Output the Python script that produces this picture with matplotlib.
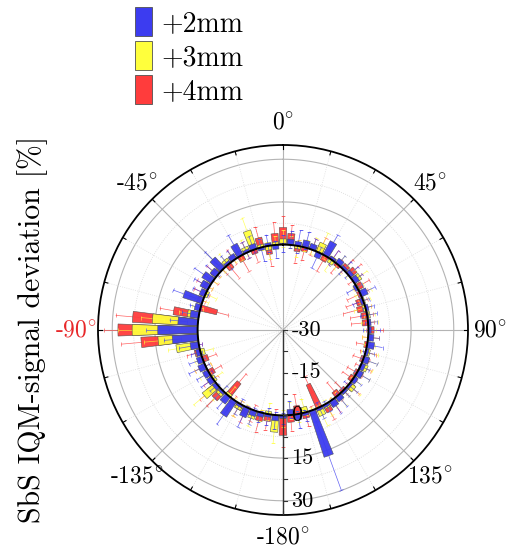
import numpy as np
import matplotlib
matplotlib.use("Agg")
import matplotlib.pyplot as plt
from matplotlib.patches import Patch
from matplotlib.lines import Line2D

plt.rcParams['font.family'] = ['cmr10', 'DejaVu Serif']
plt.rcParams['mathtext.fontset'] = 'cm'
plt.rcParams['axes.unicode_minus'] = False

# angles in degrees, 0 at top, clockwise (0..355 step 5; 180..355 == -180..-5)
angles = np.arange(0, 360, 5)

labels = ["+2mm", "+3mm", "+4mm"]
colors = ["#3c3cf0", "#ffff3c", "#ff3c3c"]

dev_2mm = [0.5, 2, 1.5, 2.5, 2, -2, 5.5, 1, 2, 1,
           1.5, 2, -1, 2.5, -1, 1, 0.5, 1, 1, 2,
           2.5, 1, 2, 1.5, 2, 1.5, 1, 1, 2, 2.5,
           1, 1, 17, 1, 2, -2, 1, 2, 1, 1.5,
           2, 3.5, 1, 6.5, 3, 1, 1.5, 2, 2, 2.5,
           2, 1.5, 3, 9, 14, 7, 3, 2, 7, 2,
           3, 4, 2.5, 5, 1, 2, 4.5, 1, 2, -1,
           1, -1.5]
dev_3mm = [2, 1, -1, 0.8, 1.5, 3.5, 1, -1.5, 1, 0.5,
           1, 3, 0.5, 1, 0.5, -1, 1, 0.5, 0.5, 1,
           1, 1.5, 2, 2.5, 2, 1, 2.5, 1, 1.5, 1,
           1.5, 3, 1, -2, 1, -1.5, 1, 6, -1, 1,
           3, 1, 2, 1, -1, 2, 6, -1, 1.5, 1,
           1, -1.5, 8, 14, 23, 16, 4, 1, 1, -1,
           1, 1.5, 1, 2, 2, 1, 1.5, 2, 7, 1,
           -1.5, 1]
dev_4mm = [6, 4, -2, -1.5, 1, 2.5, -2, 1, -1, 2,
           3, 1, 2, -1, -2.5, -3, -2, -2, 2, 1,
           -1, 1, -1, 1, -1, -1.5, 2, -1, -2, 2,
           3, -9, 1.5, 2, -3, 2.5, 7, 1, 2.5, 3,
           1, 2.5, 2, 1.5, -6, 4, 4, 1, -2, 1,
           -2, 2, 2, 20, 28, 23, 9, -6, 2, 1.5,
           2, 1, 2, 1, -2, 1.5, -2, 1, -1.5, 3.5,
           -3, 4]

err_2mm = [3, 3, 4, 3, 2, 4, 3, 3, 2, 3,
           3, 2, 3, 3, 3, 2, 3, 2, 3, 2,
           3, 2, 3, 2, 3, 2, 3, 2, 3, 3,
           2, 3, 13, 2, 3, 3, 2, 3, 3, 2,
           3, 4, 3, 4, 3, 3, 2, 3, 3, 4,
           3, 2, 4, 3, 4, 3, 3, 2, 4, 3,
           3, 4, 3, 4, 3, 2, 4, 3, 3, 4,
           3, 3]
err_3mm = [3, 2, 3, 2, 3, 4, 2, 3, 3, 2,
           2, 3, 2, 3, 2, 3, 2, 3, 2, 3,
           2, 3, 3, 2, 3, 2, 3, 2, 3, 2,
           3, 4, 2, 3, 2, 3, 3, 4, 3, 2,
           3, 2, 3, 2, 3, 3, 5, 3, 2, 3,
           2, 3, 3, 5, 5, 4, 3, 2, 3, 3,
           2, 3, 2, 3, 3, 2, 3, 3, 5, 2,
           3, 2]
err_4mm = [4, 3, 4, 3, 3, 3, 4, 3, 3, 3,
           3, 3, 3, 4, 4, 5, 4, 4, 3, 3,
           3, 3, 3, 3, 3, 3, 3, 3, 4, 3,
           3, 3, 3, 3, 4, 3, 4, 3, 3, 4,
           3, 3, 3, 3, 4, 4, 4, 3, 3, 3,
           3, 3, 3, 7, 5, 6, 5, 4, 3, 3,
           3, 3, 3, 3, 4, 3, 4, 3, 3, 4,
           4, 4]

theta_labels = ["0", "45", "90", "135", "-180", "-135", "-90", "-45"]
r_ticks = [-30, -15, 0, 15, 30]
r_min, r_max = -30, 35

fig = plt.figure(figsize=(5.1, 5.52), dpi=100)
ax = fig.add_axes([98 / 510, 37 / 552, 370 / 510, 370 / 552], projection='polar')
ax.set_theta_zero_location('N')
ax.set_theta_direction(-1)
ax.set_ylim(r_min, r_max)
ax.grid(False)
ax.set_yticks([])

full = np.linspace(0, 2 * np.pi, 400)
# circles
for r in [15, 30]:
    ax.plot(full, np.full_like(full, r), color='#b4b4b4', lw=0.8, zorder=1)
for r in [7.5, 22.5]:
    ax.plot(full, np.full_like(full, r), color='#d8d8d8', lw=0.6, ls=':', zorder=1)
# spokes
for a in range(0, 360, 15):
    t = np.deg2rad(a)
    if a % 45 == 0:
        ax.plot([t, t], [r_min, r_max], color='#b4b4b4', lw=0.8, zorder=1)
    else:
        ax.plot([t, t], [r_min, r_max], color='#dedede', lw=0.6, ls=':', zorder=1)
    ax.plot([t, t], [r_max - 1.3, r_max], color='k', lw=0.8, zorder=6)

th = np.deg2rad(angles)
w = np.deg2rad(4.2)
series = [(dev_4mm, err_4mm, colors[2]),
          (dev_3mm, err_3mm, colors[1]),
          (dev_2mm, err_2mm, colors[0])]
for i, (vals, errs, c) in enumerate(series):
    ax.errorbar(th, vals, yerr=errs, fmt='none', ecolor=c, elinewidth=0.5,
                capsize=1.3, capthick=0.5, alpha=0.8, zorder=2 + i)
    ax.bar(th, vals, width=w, bottom=0, color=c, edgecolor='#505050',
           linewidth=0.4, alpha=0.95, zorder=3 + i)

# zero circle
ax.plot(full, np.zeros_like(full), color='k', lw=1.4, zorder=7)

# radial axis along -180
ax.plot([np.pi, np.pi], [r_min, r_max], color='#333333', lw=1.0, zorder=6)
for r in np.arange(-30, 35, 7.5):
    x0, y0 = ax.transData.transform((np.pi, r))
    fig.add_artist(Line2D([x0, x0 + 4], [y0, y0], transform=None,
                          color='#333333', lw=0.8, zorder=6))
for r in r_ticks:
    ax.annotate(str(r), xy=(np.pi, r), xytext=(6, 0), textcoords='offset points',
                ha='left', va='center', fontsize=16, zorder=8)

ax.set_xticks(np.deg2rad(np.arange(0, 360, 45)))
ax.set_xticklabels([r"$\text{%s}^{\circ}$" % lbl for lbl in theta_labels], fontsize=17)
ax.get_xticklabels()[6].set_color('#e8282a')
ax.tick_params(axis='x', length=0, pad=9)
ax.spines['polar'].set_linewidth(1.3)
ax.spines['polar'].set_color('k')

fig.text(0.063, 0.404, "SbS IQM-signal deviation [%]", rotation=90,
         ha='center', va='center', fontsize=21.5)

handles = [Patch(facecolor=c, edgecolor='#505050', linewidth=0.6) for c in colors]
fig.legend(handles, labels, loc='upper left', bbox_to_anchor=(135 / 510, 1 - 7 / 552),
           frameon=False, fontsize=20, handlelength=0.6, handleheight=1.22,
           labelspacing=0.15, handletextpad=0.35, borderpad=0, borderaxespad=0)

fig.savefig("out.png", dpi=100)
